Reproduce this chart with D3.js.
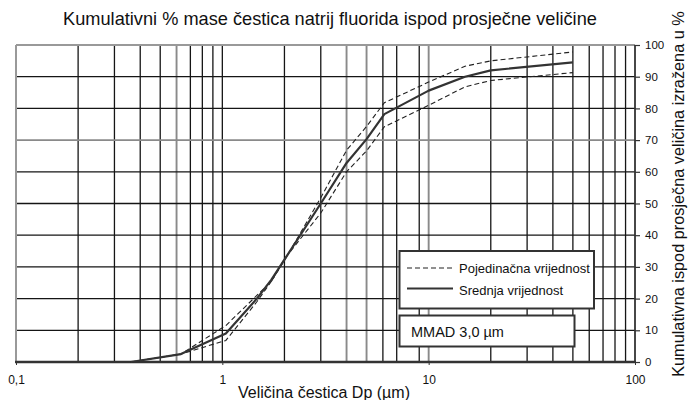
<!DOCTYPE html>
<html>
<head>
<meta charset="utf-8">
<script src="https://cdn.jsdelivr.net/npm/d3@7"></script>
<style>
  body { margin: 0; background: #fff; }
  svg { display: block; }
  text { font-family: "Liberation Sans", Arial, Helvetica, sans-serif; fill: #111; }
</style>
</head>
<body>
<svg id="chart" width="691" height="400"></svg>
<script>
// Particle size (µm) at which cumulative mass fractions are given
const sizes = [0.36, 0.63, 1.04, 1.47, 1.73, 2.0, 3.0, 4.0, 5.0, 6.1, 10, 15, 20, 50];
// Mean cumulative % (solid line)
const meanValues  = [0, 2.5, 9.0, 20.0, 26.0, 32.3, 50.0, 62.8, 70.3, 78.2, 85.6, 90.0, 92.0, 94.5];
// Individual runs (dashed lines)
const upperValues = [0, 2.5, 11.5, 21.0, 25.5, 32.0, 51.8, 66.8, 74.3, 81.8, 88.3, 93.3, 95.0, 97.8];
const lowerValues = [0, 2.5, 6.8, 19.0, 25.5, 32.5, 47.0, 60.0, 66.6, 74.2, 81.0, 86.8, 88.8, 91.3];

const xTickValues = [0.1, 1, 10, 100];
const xTickLabels = ["0,1", "1", "10", "100"];
const yTickValues = [0, 10, 20, 30, 40, 50, 60, 70, 80, 90, 100];

const titleText = "Kumulativni % mase čestica natrij fluorida ispod prosječne veličine";
const xTitleText = "Veličina čestica Dp (µm)";
const yTitleText = "Kumulativna ispod prosječna veličina izražena u %";
const legendLabels = ["Pojedinačna vrijednost", "Srednja vrijednost"];
const mmadLabel = "MMAD 3,0 µm";

// Emphasised (grey) grid lines, and minor lines left out of the grid
const greyX = [0.6, 4, 5, 10];
const greyY = [70];
const skippedX = [8];

const svg = d3.select("#chart");
const plotL = 16, plotR = 635, plotT = 45, plotB = 362;

const x = d3.scaleLog().domain([0.1, 100]).range([plotL, plotR]);
const y = d3.scaleLinear().domain([0, 100]).range([plotB, plotT]);

const near = (list, d) => list.some(g => Math.abs(g - d) < 1e-6);

// Grid
const grid = svg.append("g");
const vTicks = x.ticks().filter(d => d > 0.1 + 1e-9 && d < 100 - 1e-9 && !near(skippedX, d));
grid.selectAll("line.v").data(vTicks).join("line")
  .attr("x1", d => x(d)).attr("x2", d => x(d))
  .attr("y1", plotT).attr("y2", plotB)
  .attr("stroke", d => near(greyX, d) ? "#8a8a8a" : "#151515")
  .attr("stroke-width", d => near(greyX, d) ? 1.9 : 1.3);

grid.selectAll("line.h").data(yTickValues.filter(d => d > 0 && d < 100)).join("line")
  .attr("x1", plotL).attr("x2", plotR)
  .attr("y1", d => y(d)).attr("y2", d => y(d))
  .attr("stroke", d => greyY.includes(d) ? "#8a8a8a" : "#151515")
  .attr("stroke-width", d => greyY.includes(d) ? 1.9 : 1.3);

// Frame: grey on top and left, dark on bottom and right
svg.append("line").attr("x1", plotL).attr("x2", plotR).attr("y1", plotT).attr("y2", plotT)
  .attr("stroke", "#999").attr("stroke-width", 2);
svg.append("line").attr("x1", plotL).attr("x2", plotL).attr("y1", plotT).attr("y2", plotB)
  .attr("stroke", "#999").attr("stroke-width", 2);
svg.append("line").attr("x1", plotR).attr("x2", plotR).attr("y1", plotT).attr("y2", plotB)
  .attr("stroke", "#333").attr("stroke-width", 1.8);

// Bottom axis (labels)
const xAxis = svg.append("g").attr("transform", `translate(0,${plotB})`)
  .call(d3.axisBottom(x).tickValues(xTickValues).tickFormat((d, i) => xTickLabels[i])
    .tickSize(3).tickPadding(10));
xAxis.select(".domain").remove();
xAxis.selectAll("line").attr("stroke", "#333");
xAxis.selectAll("text").attr("font-size", 12).attr("fill", "#111");
svg.append("line").attr("x1", plotL - 1).attr("x2", plotR + 1).attr("y1", plotB).attr("y2", plotB)
  .attr("stroke", "#333").attr("stroke-width", 2.5);

// Right axis (labels)
const yAxis = svg.append("g").attr("transform", `translate(${plotR},0)`)
  .call(d3.axisRight(y).tickValues(yTickValues).tickSize(5).tickPadding(5));
yAxis.select(".domain").remove();
yAxis.selectAll("line").attr("stroke", "#333").attr("stroke-width", 1.2);
yAxis.selectAll("text").attr("font-size", 11.5).attr("fill", "#111");

// Curves
const line = d3.line().x(d => x(d[0])).y(d => y(d[1]));
const pairs = vals => sizes.map((s, i) => [s, vals[i]]);

[upperValues, lowerValues].forEach(vals => {
  svg.append("path").datum(pairs(vals)).attr("d", line)
    .attr("fill", "none").attr("stroke", "#222").attr("stroke-width", 1.1)
    .attr("stroke-dasharray", "5,3");
});
svg.append("path").datum(pairs(meanValues)).attr("d", line)
  .attr("fill", "none").attr("stroke", "#333").attr("stroke-width", 2.2)
  .attr("stroke-linejoin", "round");

// Legend
const lg = svg.append("g");
lg.append("rect").attr("x", 399.5).attr("y", 251).attr("width", 194.5).attr("height", 57.5)
  .attr("fill", "#fff").attr("stroke", "#333").attr("stroke-width", 2);
lg.append("line").attr("x1", 407).attr("x2", 453).attr("y1", 268).attr("y2", 268)
  .attr("stroke", "#222").attr("stroke-width", 1.1).attr("stroke-dasharray", "5,3");
lg.append("line").attr("x1", 407).attr("x2", 453).attr("y1", 288.5).attr("y2", 288.5)
  .attr("stroke", "#333").attr("stroke-width", 1.8);
lg.selectAll("text.l").data(legendLabels).join("text")
  .attr("x", 459).attr("y", (d, i) => 272.5 + i * 22.5)
  .attr("font-size", 13).text(d => d);

lg.append("rect").attr("x", 399.5).attr("y", 315.5).attr("width", 175).attr("height", 31)
  .attr("fill", "#fff").attr("stroke", "#333").attr("stroke-width", 2);
lg.append("text").attr("x", 411).attr("y", 336.5).attr("font-size", 14.5).text(mmadLabel);

// Titles
svg.append("text").attr("x", 330).attr("y", 25).attr("text-anchor", "middle")
  .attr("font-size", 18.2).text(titleText);
svg.append("text").attr("x", 324).attr("y", 398).attr("text-anchor", "middle")
  .attr("font-size", 16).text(xTitleText);
svg.append("text").attr("transform", "translate(684,194) rotate(-90)")
  .attr("text-anchor", "middle").attr("font-size", 16.3).text(yTitleText);
</script>
</body>
</html>
